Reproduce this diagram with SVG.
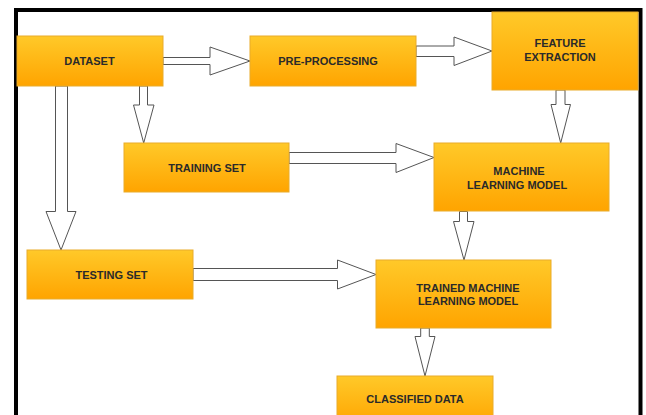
<svg xmlns="http://www.w3.org/2000/svg" width="646" height="415" viewBox="0 0 646 415">
  <defs>
    <linearGradient id="g" x1="0" y1="0" x2="0" y2="1">
      <stop offset="0" stop-color="#FFC929"/>
      <stop offset="1" stop-color="#FFA400"/>
    </linearGradient>
    <style>
      .box { fill: url(#g); stroke: #E9AC2A; stroke-width: 1; }
      .lbl { font-family: "Liberation Sans", Arial, sans-serif; font-weight: bold; font-size: 11px; fill: #2a2a2a; text-anchor: middle; }
      .arr { fill: #ffffff; stroke: #555555; stroke-width: 1; stroke-linejoin: miter; }
    </style>
  </defs>
  <rect x="0" y="0" width="646" height="415" fill="#ffffff"/>
  <path d="M16,417 V10 H640.5 V417" fill="none" stroke="#000000" stroke-width="4"/>

  <g id="connectors">
    <polygon class="arr" points="163,57.5 210,57.5 210,47 250,61 210,75 210,64.5 163,64.5"/>
    <polygon class="arr" points="416,46 454,46 454,37 492,51 454,65.5 454,56.5 416,56.5"/>
    <polygon class="arr" points="139.5,86 147.5,86 147.5,105 154,105 143.7,143 133.5,105 139.5,105"/>
    <polygon class="arr" points="289,152.5 396,152.5 396,143.5 434,157.5 396,172.5 396,163.5 289,163.5"/>
    <polygon class="arr" points="556,90 565,90 565,104.5 570.5,104.5 560.7,143 551,104.5 556,104.5"/>
    <polygon class="arr" points="55.5,86 67.5,86 67.5,211.5 76,211.5 61,250 46,211.5 55.5,211.5"/>
    <polygon class="arr" points="193,268.5 337.5,268.5 337.5,260 376,274.5 337.5,289 337.5,280.5 193,280.5"/>
    <polygon class="arr" points="459.5,211.5 467.5,211.5 467.5,221.5 474,221.5 464,260 453.5,221.5 459.5,221.5"/>
    <polygon class="arr" points="420.7,328 429.3,328 429.3,336.5 435,336.5 425,376 415,336.5 420.7,336.5"/>
  </g>

  <g id="dataset">
    <rect class="box" x="17" y="36" width="146" height="50"/>
    <text class="lbl" x="89.5" y="65">DATASET</text>
  </g>
  <g id="preprocessing">
    <rect class="box" x="250" y="36" width="166" height="50"/>
    <text class="lbl" x="328" y="65">PRE-PROCESSING</text>
  </g>
  <g id="feature-extraction">
    <rect class="box" x="492" y="12" width="146" height="78"/>
    <text class="lbl" x="560" y="47">FEATURE</text>
    <text class="lbl" x="560" y="61">EXTRACTION</text>
  </g>
  <g id="training-set">
    <rect class="box" x="124" y="143" width="165" height="49"/>
    <text class="lbl" x="207" y="171.5">TRAINING SET</text>
  </g>
  <g id="ml-model">
    <rect class="box" x="434" y="143" width="175" height="68"/>
    <text class="lbl" x="519" y="175">MACHINE</text>
    <text class="lbl" x="517" y="188.5">LEARNING MODEL</text>
  </g>
  <g id="testing-set">
    <rect class="box" x="27" y="250" width="166" height="49"/>
    <text class="lbl" x="111.5" y="278.5">TESTING SET</text>
  </g>
  <g id="trained-model">
    <rect class="box" x="376" y="260" width="175" height="68"/>
    <text class="lbl" x="468" y="291.5">TRAINED MACHINE</text>
    <text class="lbl" x="468" y="305">LEARNING MODEL</text>
  </g>
  <g id="classified-data">
    <rect class="box" x="337" y="376" width="156" height="50"/>
    <text class="lbl" x="415" y="403">CLASSIFIED DATA</text>
  </g>
</svg>
